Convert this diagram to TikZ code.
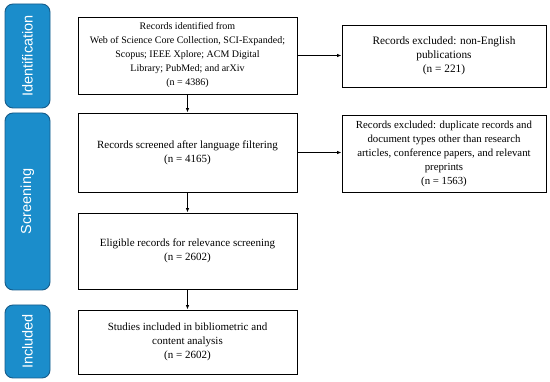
\documentclass[tikz,border=0pt]{standalone}
\usepackage{fontspec}
\setmainfont{Liberation Serif}
\newfontfamily\phasefont{Liberation Sans}
\usetikzlibrary{arrows.meta,positioning}
\definecolor{phaseblue}{RGB}{27,141,203}
\definecolor{phaseedge}{RGB}{22,92,138}

\begin{document}
\begin{tikzpicture}[
  x=1pt, y=-1pt, >={Latex[length=4.5pt,width=3.5pt]},
  every node/.style={font=\fontsize{11}{14}\selectfont},
  recbox/.style={draw, line width=0.9pt, align=center, inner sep=2pt},
  phase/.style={draw=phaseedge, line width=0.9pt, fill=phaseblue, rounded corners=8pt,
    minimum width=45pt, text=white},
  phasetext/.style={rotate=90, text=white, font=\phasefont\fontsize{14.5}{16}\selectfont},
  link/.style={->, line width=0.9pt}
]
  \useasboundingbox (0,0) rectangle (550,382);
  % phase labels on the left
  \node[phase, minimum height=104pt] (ident) at (27.5,56) {};
  \node[phasetext] at (ident) {Identification};
  \node[phase, minimum height=177pt] (screen) at (27.5,201.5) {};
  \node[phasetext] at (screen) {Screening};
  \node[phase, minimum height=73pt] (incl) at (27.5,341.5) {};
  \node[phasetext] at (incl) {Included};
  % main column
  \node[recbox, minimum width=219pt, minimum height=77pt, font=\fontsize{10}{14}\selectfont] (ident1) at (187.5,55.5)
    {Records identified from\\Web of Science Core Collection, SCI-Expanded;\\Scopus; IEEE Xplore; ACM Digital\\Library; PubMed; and arXiv\\(n = 4386)};
  \node[recbox, minimum width=219pt, minimum height=79pt] (screen1) at (187.5,152.5)
    {Records screened after language filtering\\(n = 4165)};
  \node[recbox, minimum width=219pt, minimum height=76pt] (elig) at (187.5,251)
    {Eligible records for relevance screening\\(n = 2602)};
  \node[recbox, minimum width=219pt, minimum height=64pt] (studies) at (187.5,342)
    {Studies included in bibliometric and\\content analysis\\(n = 2602)};
  % exclusions on the right
  \node[recbox, minimum width=204pt, minimum height=62pt, font=\fontsize{11.3}{14}\selectfont] (excl1) at (444,56)
    {Records excluded: non-English\\publications\\(n = 221)};
  \node[recbox, minimum width=204pt, minimum height=77pt, font=\fontsize{10.8}{14}\selectfont] (excl2) at (444,153.5)
    {Records excluded: duplicate records and\\document types other than research\\articles, conference papers, and relevant\\preprints\\(n = 1563)};
  % arrows
  \draw[link] (ident1) -- (screen1);
  \draw[link] (screen1) -- (elig);
  \draw[link] (elig) -- (studies);
  \draw[link] (ident1.east) -- (ident1.east -| excl1.west);
  \draw[link] (screen1.east) -- (screen1.east -| excl2.west);
\end{tikzpicture}
\end{document}
